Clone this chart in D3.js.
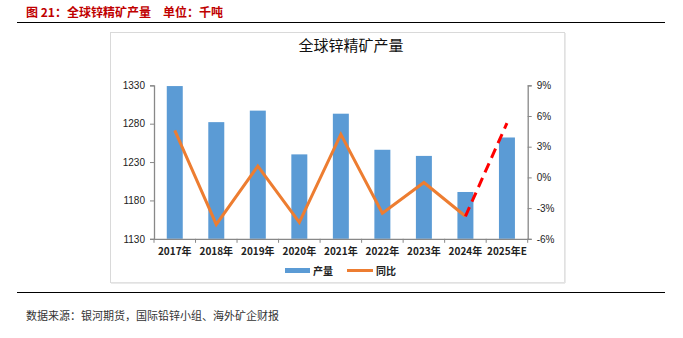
<!DOCTYPE html>
<html><head><meta charset="utf-8">
<script src="https://cdn.jsdelivr.net/npm/d3@7"></script>
<style>body{margin:0;background:#fff;}svg{display:block;}</style>
</head><body>
<svg id="c" width="683" height="338"></svg>
<script>
const categories = ["2017年","2018年","2019年","2020年","2021年","2022年","2023年","2024年","2025年E"];
const production = [1329, 1282, 1297, 1240, 1293, 1246, 1238, 1191, 1262];
const yoy = [4.6, -4.6, 1.1, -4.4, 4.2, -3.5, -0.5, -3.8, null];
const yoyForecast = [null, null, null, null, null, null, null, -3.8, 5.3];
const leftTicks = [1130, 1180, 1230, 1280, 1330];
const rightTicks = [-6, -3, 0, 3, 6, 9];

const svg = d3.select("#c");
const cjk = "'Noto Sans CJK SC', sans-serif";
const lat = "'Liberation Sans', Arial, sans-serif";

// header
svg.append("text").attr("x", 26).attr("y", 17).attr("fill", "#c00000")
  .attr("font-family", cjk).attr("font-weight", "bold").attr("font-size", 12)
  .text("图 21：全球锌精矿产量　单位：千吨");
svg.append("line").attr("x1", 17).attr("x2", 665).attr("y1", 22.5).attr("y2", 22.5).attr("stroke", "#000").attr("stroke-width", 1);
svg.append("line").attr("x1", 17).attr("x2", 665).attr("y1", 292.5).attr("y2", 292.5).attr("stroke", "#000").attr("stroke-width", 1);
svg.append("text").attr("x", 26).attr("y", 320).attr("fill", "#333")
  .attr("font-family", cjk).attr("font-size", 11)
  .text("数据来源：银河期货，国际铅锌小组、海外矿企财报");

// frame
svg.append("rect").attr("x", 110.5).attr("y", 32.5).attr("width", 454).attr("height", 250)
  .attr("fill", "#fff").attr("stroke", "#d9d9d9").attr("stroke-width", 1);
svg.append("line").attr("x1", 111).attr("x2", 565).attr("y1", 283).attr("y2", 283).attr("stroke", "#e3e3e3").attr("stroke-width", 1.5);
svg.append("line").attr("x1", 565).attr("x2", 565).attr("y1", 33).attr("y2", 283).attr("stroke", "#e3e3e3").attr("stroke-width", 1.5);

svg.append("text").attr("x", 351).attr("y", 51).attr("text-anchor", "middle")
  .attr("font-family", cjk).attr("font-size", 15).attr("fill", "#111").text("全球锌精矿产量");

const x0 = 154, x1 = 527.7, yTop = 85.3, yBot = 238.8;
const x = d3.scaleBand().domain(categories).range([x0, x1]).paddingInner(0.615).paddingOuter(0.3075);
const xb = d3.scaleBand().domain(categories).range([x0, x1]);
const yL = d3.scaleLinear().domain([1130, 1330]).range([yBot, yTop]);
const yR = d3.scaleLinear().domain([-6, 9]).range([yBot, yTop]);

// bars
svg.append("g").selectAll("rect").data(production).join("rect")
  .attr("x", (d, i) => x(categories[i])).attr("width", x.bandwidth())
  .attr("y", d => yL(d)).attr("height", d => yBot - yL(d))
  .attr("fill", "#5b9bd5");

// axes
const axisColor = "#888";
const gL = svg.append("g").attr("transform", `translate(${x0},0)`)
  .call(d3.axisLeft(yL).tickValues(leftTicks).tickSize(4).tickPadding(5).tickFormat(d3.format("d")));
const gR = svg.append("g").attr("transform", `translate(${x1},0)`)
  .call(d3.axisRight(yR).tickValues(rightTicks).tickSize(4).tickPadding(5).tickFormat(d => d + "%"));
const gX = svg.append("g").attr("transform", `translate(0,${yBot})`)
  .call(d3.axisBottom(xb).tickSize(0).tickPadding(9));
[gL, gR].forEach(g => {
  g.select(".domain").attr("stroke", axisColor).attr("stroke-width", 1.3);
  g.selectAll(".tick line").attr("stroke", axisColor);
  g.selectAll("text").attr("font-family", lat).attr("font-size", 10).attr("fill", "#222");
});
gX.select(".domain").attr("stroke", axisColor).attr("stroke-width", 1.3);
gX.selectAll("text").attr("font-family", cjk).attr("font-weight", "bold").attr("font-size", 10).attr("fill", "#222");
// x ticks at boundaries
const bounds = categories.map(c => xb(c)).concat([x1]);
svg.append("g").selectAll("line").data(bounds).join("line")
  .attr("x1", d => d).attr("x2", d => d).attr("y1", yBot).attr("y2", yBot + 4)
  .attr("stroke", axisColor);

// yoy line
const line = d3.line().defined(d => d != null)
  .x((d, i) => xb(categories[i]) + xb.bandwidth() / 2).y(d => yR(d));
svg.append("path").datum(yoy).attr("d", line).attr("fill", "none")
  .attr("stroke", "#ed7d31").attr("stroke-width", 3).attr("stroke-linejoin", "miter");
svg.append("path").datum(yoyForecast).attr("d", line).attr("fill", "none")
  .attr("stroke", "#ff0000").attr("stroke-width", 3).attr("stroke-dasharray", "10,6");

// legend
const lg = svg.append("g");
lg.append("rect").attr("x", 285).attr("y", 268).attr("width", 25).attr("height", 5).attr("fill", "#5b9bd5");
lg.append("text").attr("x", 313).attr("y", 275).attr("font-family", cjk).attr("font-weight", "bold").attr("font-size", 10).attr("fill", "#222").text("产量");
lg.append("line").attr("x1", 347).attr("x2", 373).attr("y1", 270.5).attr("y2", 270.5).attr("stroke", "#ed7d31").attr("stroke-width", 3);
lg.append("text").attr("x", 376).attr("y", 275).attr("font-family", cjk).attr("font-weight", "bold").attr("font-size", 10).attr("fill", "#222").text("同比");
</script>
</body></html>
